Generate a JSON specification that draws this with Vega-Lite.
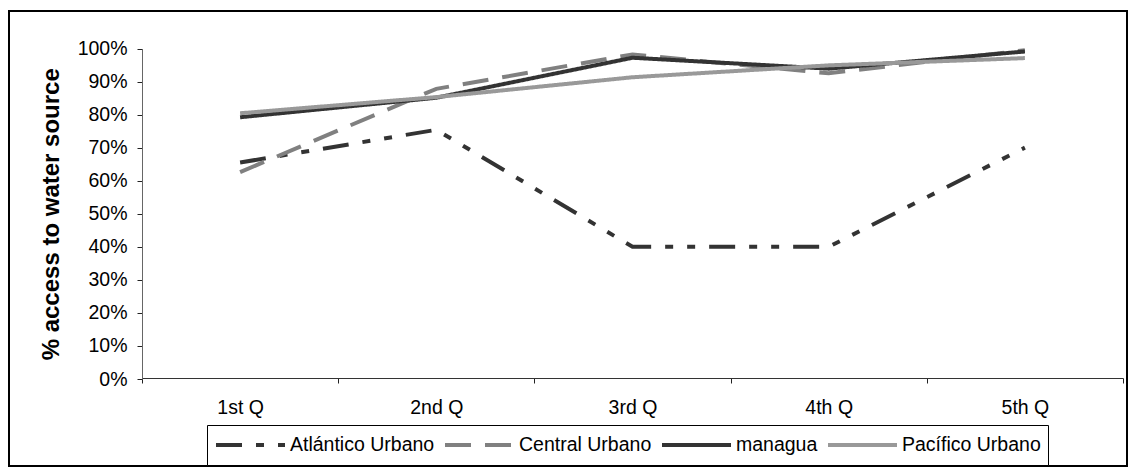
{
  "$schema": "https://vega.github.io/schema/vega-lite/v6.json",
  "width": 1118,
  "height": 455,
  "autosize": {"type": "none"},
  "padding": {"left": 9, "top": 11, "right": 1, "bottom": 1},
  "background": "white",
  "config": {
    "view": {"stroke": "black", "strokeWidth": 2},
    "font": "Liberation Sans",
    "axis": {"grid": false}
  },
  "data": {
    "values": [
      {"quintile": "1st Q", "series": "Atlántico Urbano", "access": 0.655},
      {"quintile": "2nd Q", "series": "Atlántico Urbano", "access": 0.754},
      {"quintile": "3rd Q", "series": "Atlántico Urbano", "access": 0.40},
      {"quintile": "4th Q", "series": "Atlántico Urbano", "access": 0.40},
      {"quintile": "5th Q", "series": "Atlántico Urbano", "access": 0.70},
      {"quintile": "1st Q", "series": "Central Urbano", "access": 0.626},
      {"quintile": "2nd Q", "series": "Central Urbano", "access": 0.878},
      {"quintile": "3rd Q", "series": "Central Urbano", "access": 0.982},
      {"quintile": "4th Q", "series": "Central Urbano", "access": 0.925},
      {"quintile": "5th Q", "series": "Central Urbano", "access": 0.995},
      {"quintile": "1st Q", "series": "managua", "access": 0.792},
      {"quintile": "2nd Q", "series": "managua", "access": 0.851},
      {"quintile": "3rd Q", "series": "managua", "access": 0.972},
      {"quintile": "4th Q", "series": "managua", "access": 0.939},
      {"quintile": "5th Q", "series": "managua", "access": 0.991},
      {"quintile": "1st Q", "series": "Pacífico Urbano", "access": 0.804},
      {"quintile": "2nd Q", "series": "Pacífico Urbano", "access": 0.853},
      {"quintile": "3rd Q", "series": "Pacífico Urbano", "access": 0.913},
      {"quintile": "4th Q", "series": "Pacífico Urbano", "access": 0.949},
      {"quintile": "5th Q", "series": "Pacífico Urbano", "access": 0.971}
    ]
  },
  "mark": {"type": "line", "strokeWidth": 4, "strokeCap": "butt"},
  "encoding": {
    "x": {
      "field": "quintile",
      "type": "nominal",
      "sort": ["1st Q", "2nd Q", "3rd Q", "4th Q", "5th Q"],
      "scale": {"type": "band", "range": [133, 1114], "paddingInner": 0, "paddingOuter": 0},
      "axis": {
        "title": null,
        "orient": "bottom",
        "offset": -88,
        "tickBand": "extent",
        "tickSize": 5,
        "tickColor": "#222",
        "domainColor": "#333",
        "labelFontSize": 19.5,
        "labelColor": "black",
        "labelPadding": 15,
        "labelAngle": 0
      }
    },
    "y": {
      "field": "access",
      "type": "quantitative",
      "scale": {"domain": [0, 1], "range": [368, 37.5], "nice": false},
      "axis": {
        "orient": "left",
        "offset": -133,
        "values": [0, 0.1, 0.2, 0.3, 0.4, 0.5, 0.6, 0.7, 0.8, 0.9, 1],
        "format": ".0%",
        "tickSize": 5,
        "tickColor": "#222",
        "domainColor": "#666",
        "labelFontSize": 19.5,
        "labelColor": "black",
        "labelPadding": 10,
        "title": "% access to water source",
        "titleFontSize": 24,
        "titleFontWeight": "bold",
        "titleColor": "black",
        "titlePadding": 14
      }
    },
    "color": {
      "field": "series",
      "type": "nominal",
      "scale": {
        "domain": ["Atlántico Urbano", "Central Urbano", "managua", "Pacífico Urbano"],
        "range": ["#333333", "#808080", "#333333", "#999999"]
      },
      "legend": {
        "title": null,
        "orient": "none",
        "legendX": 198,
        "legendY": 414,
        "direction": "horizontal",
        "columns": 4,
        "symbolType": "stroke",
        "symbolSize": 4761,
        "symbolStrokeWidth": 4,
        "symbolOffset": 0,
        "clipHeight": 26,
        "labelFontSize": 19.5,
        "labelColor": "black",
        "labelOffset": 3,
        "labelLimit": 300,
        "columnPadding": 8,
        "padding": 7,
        "fillColor": "white",
        "strokeColor": "black"
      }
    },
    "strokeDash": {
      "field": "series",
      "type": "nominal",
      "scale": {
        "domain": ["Atlántico Urbano", "Central Urbano", "managua", "Pacífico Urbano"],
        "range": [[26, 14, 8, 14, 8, 14], [26, 14], [1, 0], [1, 0]]
      },
      "legend": {
        "title": null,
        "orient": "none",
        "legendX": 198,
        "legendY": 414,
        "direction": "horizontal",
        "columns": 4,
        "symbolType": "stroke",
        "symbolSize": 4761,
        "symbolStrokeWidth": 4,
        "symbolOffset": 0,
        "clipHeight": 26,
        "labelFontSize": 19.5,
        "labelColor": "black",
        "labelOffset": 3,
        "labelLimit": 300,
        "columnPadding": 8,
        "padding": 7,
        "fillColor": "white",
        "strokeColor": "black"
      }
    }
  }
}
